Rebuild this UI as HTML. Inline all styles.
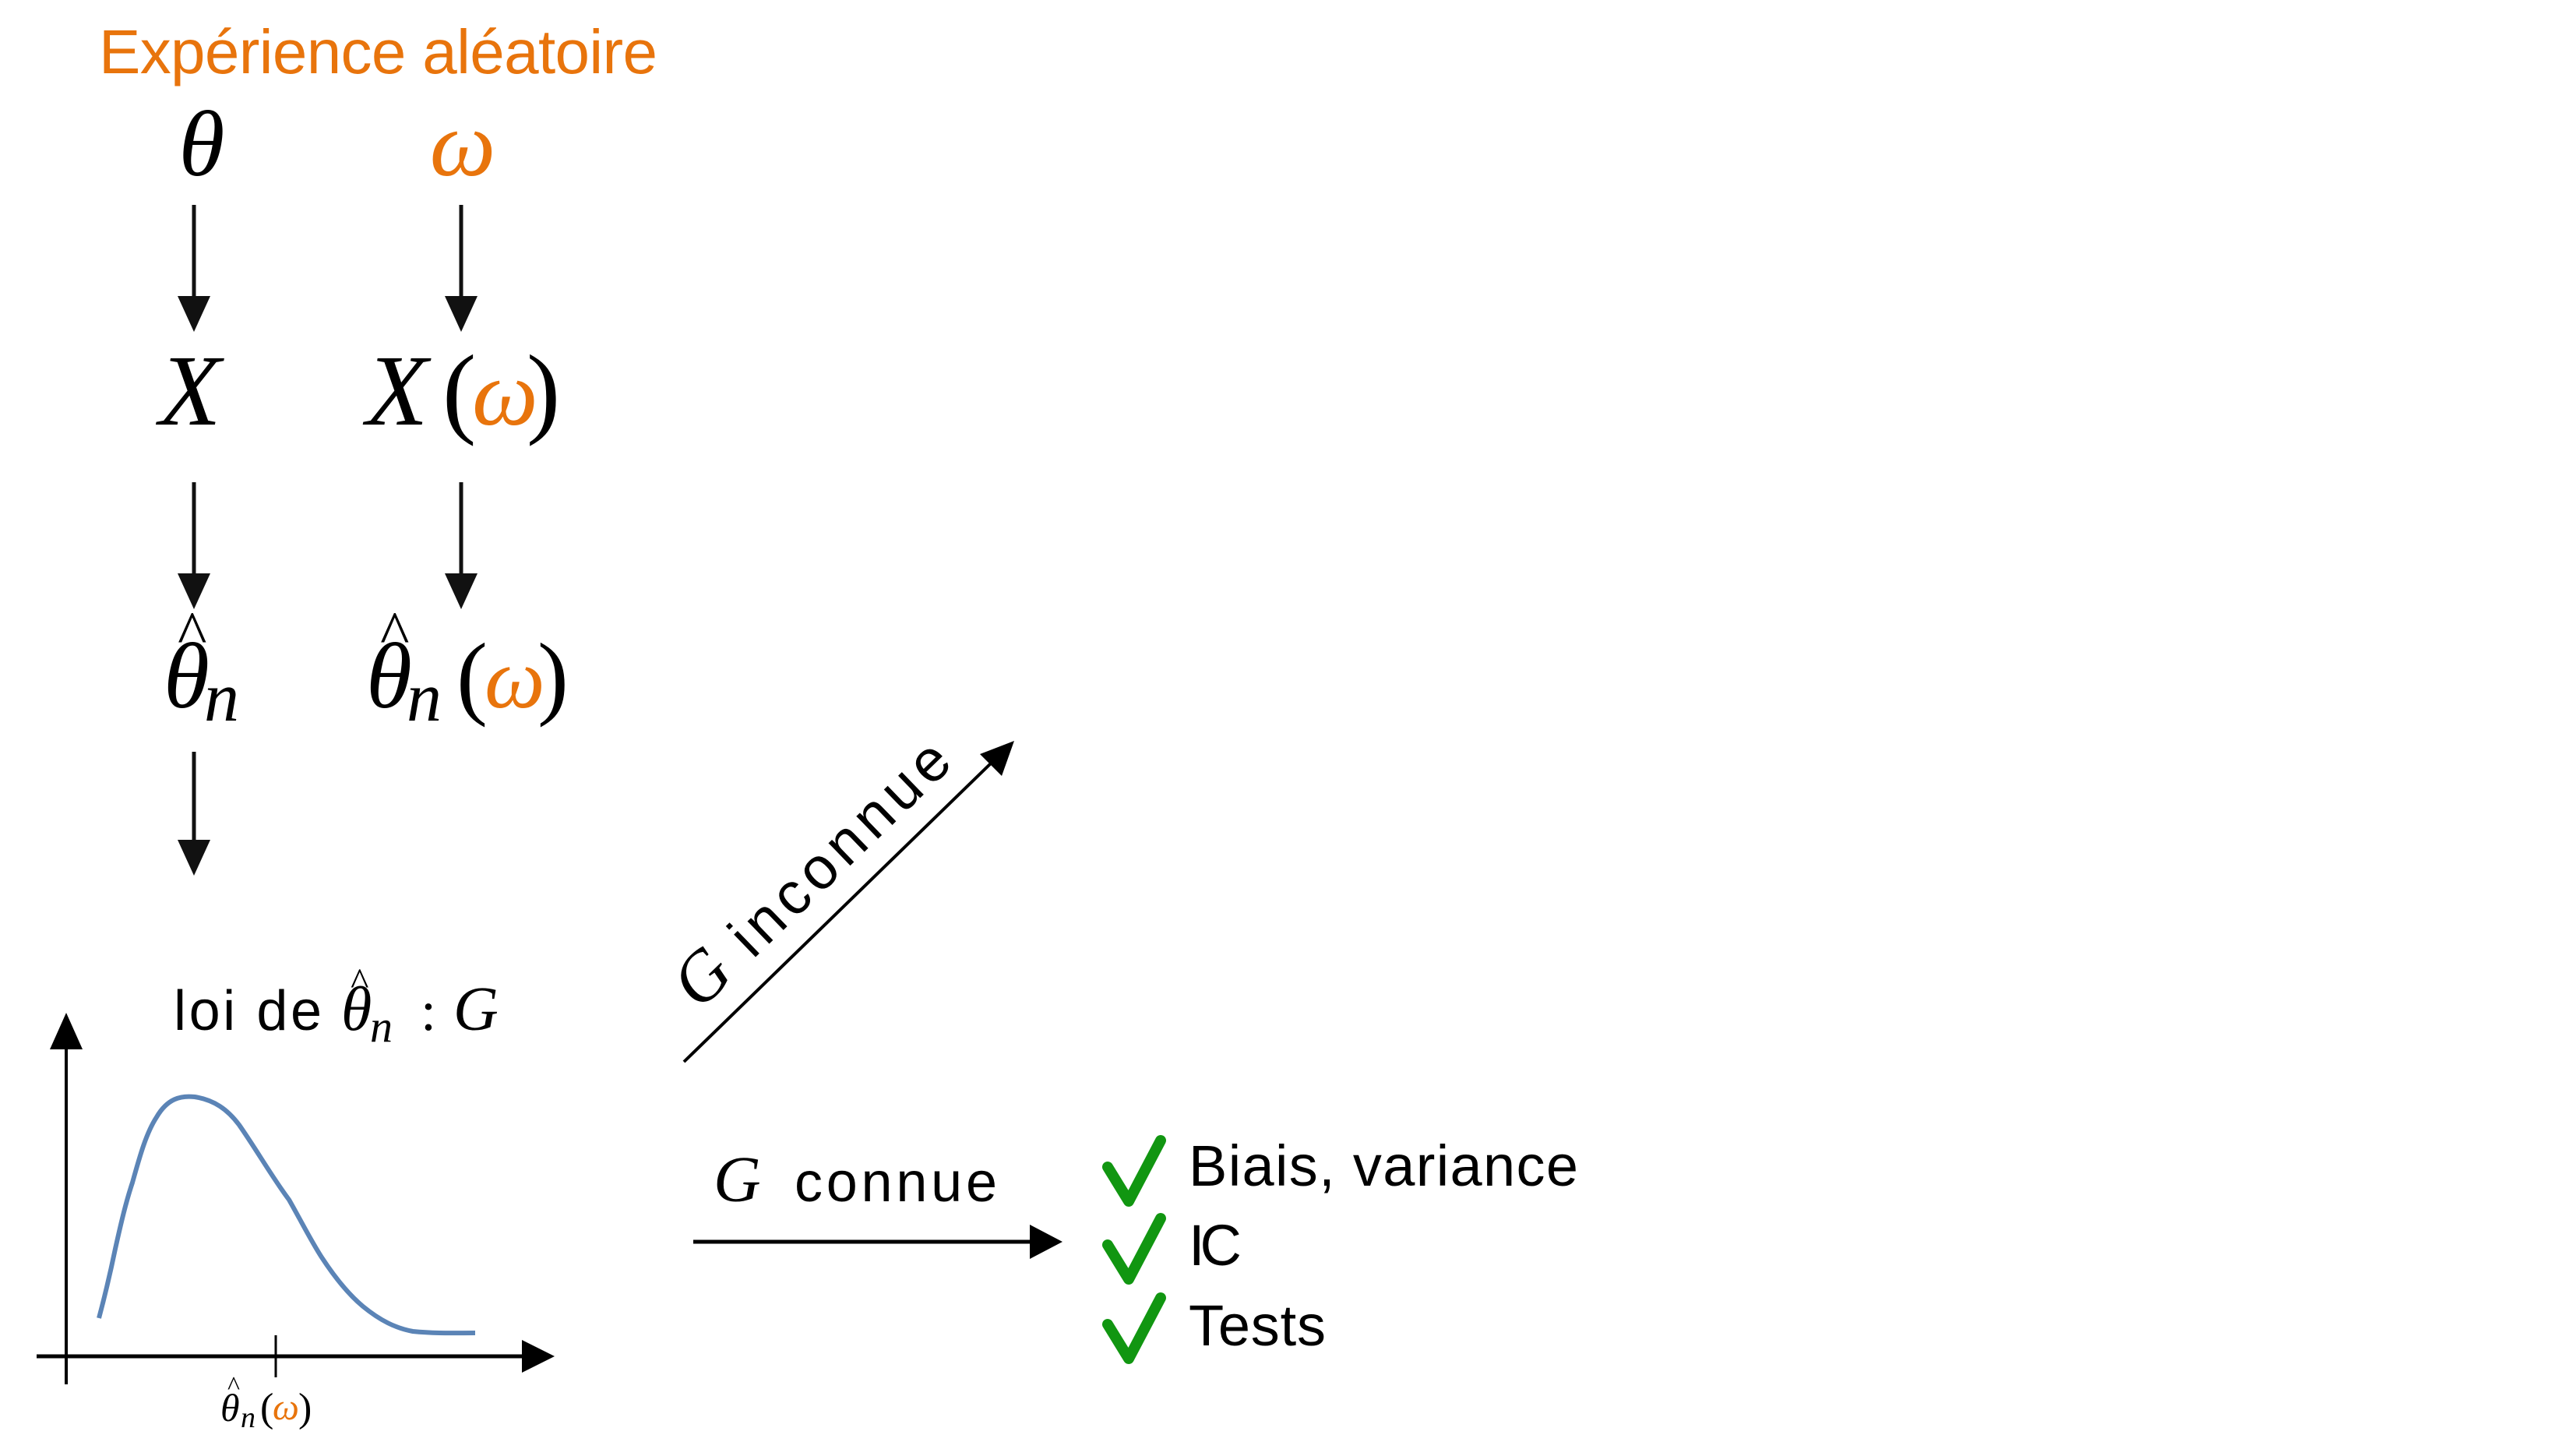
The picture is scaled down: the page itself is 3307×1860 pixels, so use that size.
<!DOCTYPE html>
<html><head><meta charset="utf-8"><style>
html,body{margin:0;padding:0;background:#fff;}
svg{display:block}
.s{font-family:"Liberation Sans","DejaVu Sans",sans-serif}
.m{font-family:"Liberation Serif","DejaVu Serif",serif;font-style:italic}
.r{font-family:"Liberation Serif","DejaVu Serif",serif}
</style></head><body>
<svg width="3307" height="1860" viewBox="0 0 3307 1860" xmlns="http://www.w3.org/2000/svg">
<text x="127" y="94" class="s" font-size="80" fill="#e8740c" textLength="717">Expérience aléatoire</text>
<text x="259" y="225" class="m" font-size="120" text-anchor="middle">θ</text>
<text x="594" y="225" class="m" font-size="120" text-anchor="middle" fill="#e8740c">ω</text>

<g stroke="#111" stroke-width="5">
<line x1="249" y1="263" x2="249" y2="384"/>
<line x1="592" y1="263" x2="592" y2="384"/>
<line x1="249" y1="619" x2="249" y2="740"/>
<line x1="592" y1="619" x2="592" y2="740"/>
<line x1="249" y1="965" x2="249" y2="1082"/>
</g>
<g fill="#111">
<polygon points="228,380 270,380 249,426"/>
<polygon points="571,380 613,380 592,426"/>
<polygon points="228,736 270,736 249,782"/>
<polygon points="571,736 613,736 592,782"/>
<polygon points="228,1078 270,1078 249,1124"/>
</g>

<text x="244" y="545" class="m" font-size="130" text-anchor="middle">X</text>
<text x="470" y="545" class="m" font-size="130">X</text>
<text x="568" y="545" class="r" font-size="130">(</text>
<text x="606" y="545" class="m" font-size="120" fill="#e8740c">ω</text>
<text x="676" y="545" class="r" font-size="130">)</text>

<text x="210" y="908" class="m" font-size="120">θ</text>
<text x="228" y="840" class="r" font-size="80">^</text>
<text x="262" y="925" class="m" font-size="90">n</text>
<text x="470" y="908" class="m" font-size="120">θ</text>
<text x="488" y="840" class="r" font-size="80">^</text>
<text x="522" y="925" class="m" font-size="90">n</text>
<text x="586" y="908" class="r" font-size="120">(</text>
<text x="622" y="908" class="m" font-size="110" fill="#e8740c">ω</text>
<text x="690" y="908" class="r" font-size="120">)</text>

<g transform="translate(0,-8)">
<text x="223" y="1330" class="s" font-size="72" textLength="190">loi de</text>
<text x="438" y="1330" class="m" font-size="80">θ</text>
<text x="450" y="1285" class="r" font-size="50">^</text>
<text x="475" y="1345" class="m" font-size="58">n</text>
<text x="540" y="1330" class="r" font-size="72">:</text>
<text x="582" y="1330" class="m" font-size="80">G</text>

<line x1="85" y1="1355" x2="85" y2="1785" stroke="#000" stroke-width="4"/>
<polygon points="64,1355 106,1355 85,1308" fill="#000"/>
<line x1="47" y1="1749" x2="672" y2="1749" stroke="#000" stroke-width="5"/>
<polygon points="670,1728 712,1749 670,1770" fill="#000"/>
<line x1="354" y1="1722" x2="354" y2="1776" stroke="#000" stroke-width="3"/>
<path d="M127,1700 C135,1670 142,1640 148,1611 C156,1575 162,1550 170,1526 C180,1490 188,1462 201,1442 C215,1418 232,1414 250,1416 C275,1420 292,1432 307,1452 C330,1485 350,1520 371,1548 C388,1578 400,1602 413,1622 C430,1648 448,1670 466,1685 C488,1703 508,1713 530,1717 C560,1720 585,1719 610,1719" fill="none" stroke="#5b84b6" stroke-width="6"/>

<text x="283" y="1832" class="m" font-size="50">θ</text>
<text x="292" y="1798" class="r" font-size="34">^</text>
<text x="309" y="1840" class="m" font-size="38">n</text>
<text x="334" y="1832" class="r" font-size="52">(</text>
<text x="350" y="1830" class="m" font-size="48" fill="#e8740c">ω</text>
<text x="383" y="1832" class="r" font-size="52">)</text>

<text x="916" y="1550" class="m" font-size="84">G</text>
<text x="1020" y="1550" class="s" font-size="72" textLength="260">connue</text>
<line x1="890" y1="1602" x2="1322" y2="1602" stroke="#000" stroke-width="5"/>
<polygon points="1322,1580 1364,1602 1322,1624" fill="#000"/>

<g fill="none" stroke="#119611" stroke-width="14" stroke-linecap="round" stroke-linejoin="round">
<polyline points="1422,1506 1449,1550 1490,1472"/>
<polyline points="1422,1606 1449,1650 1490,1572"/>
<polyline points="1422,1708 1449,1752 1490,1674"/>
</g>
<text x="1526" y="1530" class="s" font-size="74" textLength="500">Biais, variance</text>
<text x="1526" y="1632" class="s" font-size="74" textLength="68">IC</text>
<text x="1526" y="1735" class="s" font-size="74" textLength="176">Tests</text>
</g>

<line x1="878" y1="1363" x2="1276" y2="976" stroke="#000" stroke-width="4"/>
<polygon points="1302,951 1286,996 1258,968" fill="#000"/>
<g transform="translate(898,1298) rotate(-44)">
<text x="0" y="0" class="m" font-size="90">G</text>
<text x="95" y="0" class="s" font-size="76" textLength="360">inconnue</text>
</g>
</svg>
</body></html>
